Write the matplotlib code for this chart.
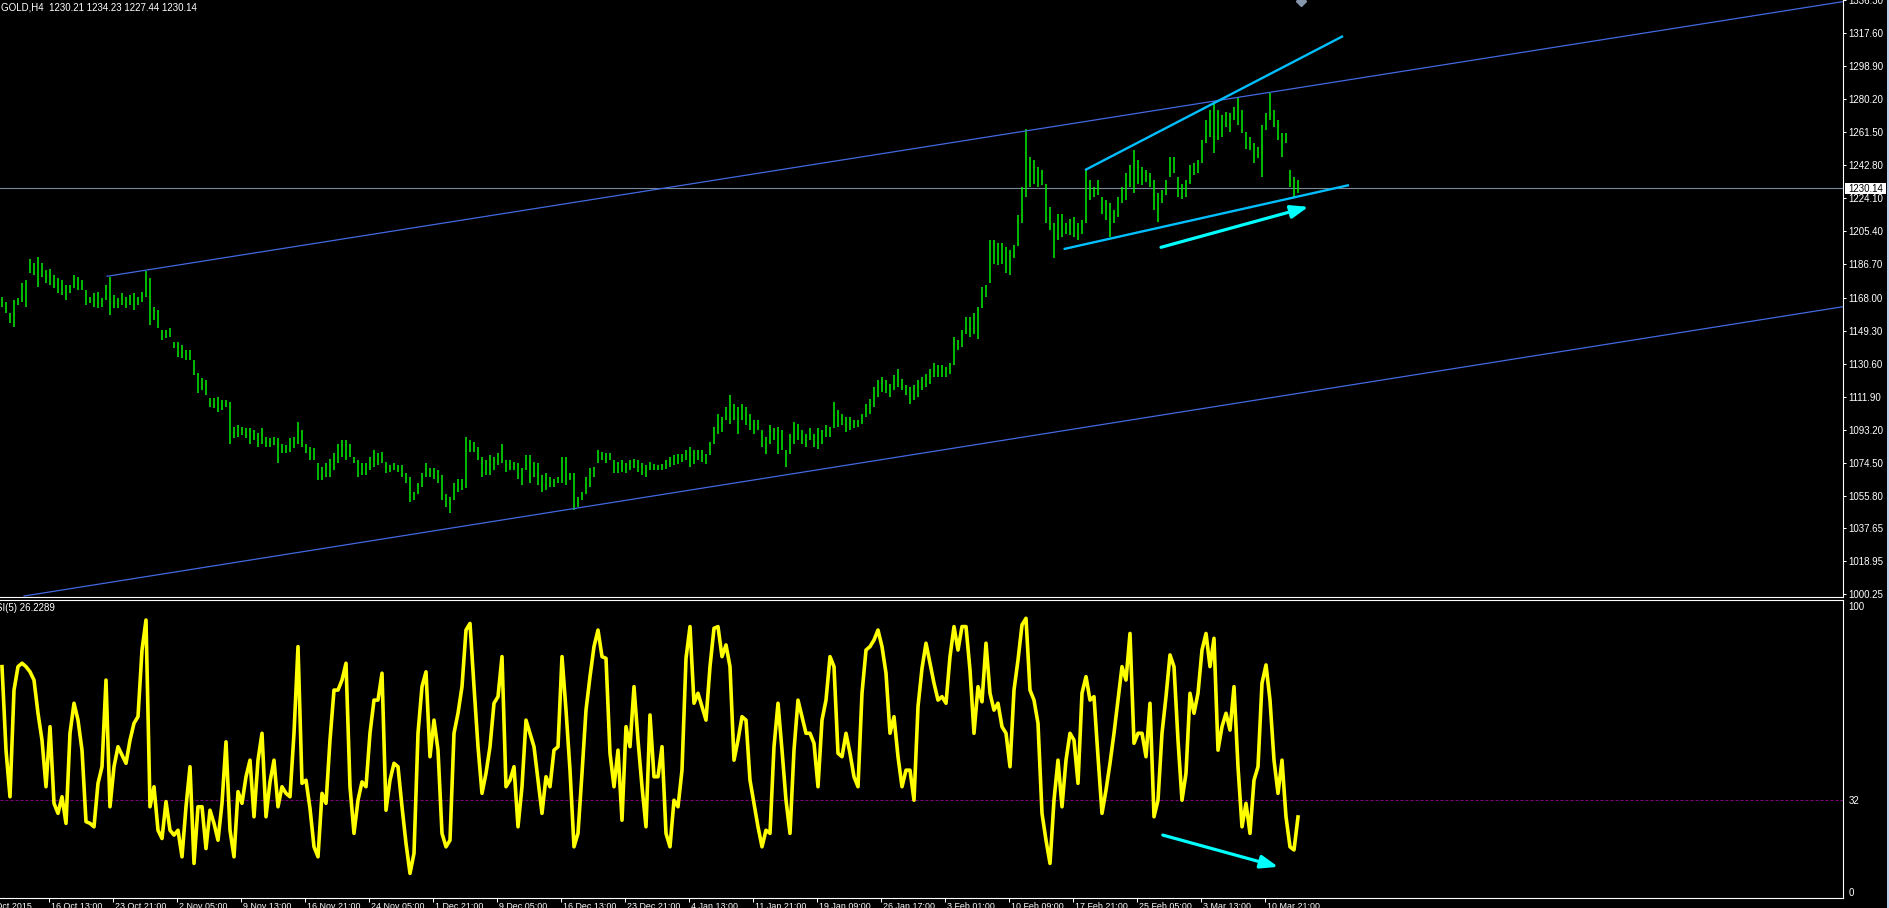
import numpy as np
import matplotlib
matplotlib.use("Agg")
import matplotlib.pyplot as plt
import matplotlib.transforms as mtransforms
from matplotlib.patches import Rectangle

plt.rcParams['font.family'] = ['Liberation Sans', 'DejaVu Sans']

symbol = "GOLD,H4"
last_ohlc = [1230.21, 1234.23, 1227.44, 1230.14]
rsi_name = "RSI(5)"
rsi_level = 32

# H4 bars (every other bar of the screen), highs and lows
bar_high = [
    1168.5, 1165.6, 1159.0, 1166.6, 1167.5, 1176.0, 1177.9, 1189.6, 1187.3, 1191.1,
    1187.3, 1183.6, 1183.9, 1180.7, 1178.8, 1177.9, 1175.1, 1175.1, 1180.7, 1179.8,
    1177.9, 1172.2, 1168.5, 1170.4, 1171.3, 1167.5, 1175.1, 1179.8, 1169.4, 1167.5,
    1170.4, 1168.5, 1169.4, 1170.4, 1168.5, 1171.3, 1183.0, 1178.8, 1162.8, 1160.9,
    1149.6, 1149.6, 1150.5, 1143.0, 1143.0, 1141.1, 1138.3, 1138.3, 1132.6, 1125.1,
    1122.2, 1121.3, 1110.9, 1110.9, 1111.9, 1110.0, 1110.0, 1109.0, 1094.9, 1095.8,
    1094.9, 1093.9, 1093.9, 1093.0, 1091.1, 1093.9, 1089.2, 1088.3, 1089.2, 1088.3,
    1085.4, 1084.5, 1088.3, 1089.2, 1097.7, 1093.0, 1085.4, 1083.6, 1082.6, 1074.1,
    1072.2, 1074.1, 1076.9, 1079.8, 1085.4, 1087.3, 1087.3, 1085.4, 1077.9, 1076.0,
    1074.1, 1074.1, 1077.9, 1081.7, 1079.8, 1080.7, 1075.1, 1073.2, 1074.1, 1073.2,
    1073.2, 1068.5, 1066.6, 1058.1, 1062.8, 1068.5, 1074.1, 1071.3, 1071.3, 1070.4,
    1067.5, 1057.1, 1055.3, 1062.8, 1065.6, 1065.6, 1089.2, 1087.3, 1086.4, 1083.6,
    1077.9, 1076.0, 1078.8, 1077.9, 1079.8, 1085.4, 1076.0, 1076.0, 1075.1, 1074.1,
    1071.3, 1078.8, 1078.8, 1075.1, 1074.1, 1067.5, 1068.5, 1066.6, 1065.6, 1066.6,
    1077.9, 1077.9, 1068.5, 1068.5, 1055.3, 1058.1, 1066.6, 1071.3, 1072.2, 1081.7,
    1080.7, 1079.8, 1079.8, 1076.0, 1075.1, 1076.0, 1074.1, 1076.0, 1076.9, 1076.0,
    1074.1, 1073.2, 1074.9, 1074.0, 1073.1, 1074.0, 1075.9, 1077.8, 1078.7, 1079.7,
    1079.7, 1081.6, 1083.5, 1081.6, 1081.6, 1081.6, 1079.7, 1086.3, 1094.8, 1102.3,
    1100.5, 1106.1, 1112.7, 1108.0, 1106.1, 1108.0, 1106.1, 1102.3, 1098.6, 1098.6,
    1092.9, 1089.1, 1095.7, 1093.9, 1094.8, 1092.9, 1081.6, 1091.0, 1097.6, 1096.7,
    1092.9, 1091.0, 1093.9, 1091.0, 1093.9, 1092.9, 1095.7, 1094.8, 1108.9, 1104.2,
    1102.3, 1100.5, 1100.5, 1098.6, 1098.6, 1102.3, 1108.0, 1110.8, 1117.4, 1121.2,
    1123.1, 1121.2, 1119.3, 1124.0, 1127.8, 1122.1, 1118.4, 1117.4, 1118.4, 1121.2,
    1123.1, 1125.0, 1127.8, 1130.7, 1129.7, 1129.7, 1128.8, 1130.7, 1145.7, 1143.9,
    1149.5, 1157.1, 1157.1, 1159.0, 1162.7, 1174.0, 1175.0, 1200.4, 1200.4, 1198.6,
    1198.6, 1196.7, 1194.8, 1197.6, 1214.6, 1230.6, 1263.1, 1247.6, 1245.7, 1242.0,
    1240.1, 1232.0, 1219.3, 1209.9, 1215.5, 1215.5, 1209.9, 1212.7, 1213.7, 1209.9,
    1211.8, 1240.1, 1234.4, 1230.6, 1234.4, 1225.0, 1223.1, 1221.2, 1217.4, 1225.0,
    1230.6, 1238.2, 1242.9, 1251.4, 1245.7, 1242.0, 1240.1, 1238.2, 1234.4, 1226.9,
    1228.8, 1234.4, 1247.6, 1247.6, 1236.3, 1232.5, 1234.4, 1242.9, 1243.9, 1245.7,
    1257.1, 1268.4, 1274.0, 1279.0, 1274.0, 1271.2, 1273.1, 1272.2, 1275.9, 1281.0,
    1274.0, 1261.8, 1258.9, 1255.2, 1253.3, 1265.5, 1272.2, 1283.5, 1274.0, 1268.4,
    1260.8, 1260.8, 1240.1, 1236.3, 1234.2,
]
bar_low = [
    1162.8, 1159.0, 1153.4, 1151.5, 1163.7, 1165.6, 1162.8, 1181.7, 1180.7, 1174.1,
    1179.8, 1176.0, 1175.1, 1173.2, 1170.4, 1169.4, 1166.6, 1170.4, 1173.2, 1172.2,
    1172.2, 1163.7, 1164.7, 1162.8, 1161.9, 1162.8, 1166.6, 1158.1, 1161.9, 1161.9,
    1163.7, 1161.9, 1163.7, 1160.9, 1163.7, 1165.6, 1168.5, 1152.4, 1155.3, 1150.5,
    1143.9, 1144.9, 1145.8, 1139.2, 1134.5, 1133.6, 1132.6, 1132.6, 1124.1, 1113.7,
    1115.6, 1112.8, 1106.2, 1105.3, 1103.4, 1104.3, 1106.2, 1085.4, 1088.3, 1089.2,
    1090.2, 1088.3, 1085.4, 1087.3, 1083.6, 1085.4, 1083.6, 1083.6, 1084.5, 1074.1,
    1079.8, 1079.8, 1080.7, 1082.6, 1085.4, 1083.6, 1079.8, 1076.0, 1076.0, 1064.7,
    1064.7, 1066.6, 1066.6, 1070.4, 1074.1, 1077.9, 1076.0, 1077.9, 1074.1, 1066.6,
    1067.5, 1067.5, 1070.4, 1072.2, 1073.2, 1074.1, 1068.5, 1069.4, 1070.4, 1069.4,
    1066.6, 1062.8, 1052.4, 1053.4, 1057.1, 1060.9, 1066.6, 1066.6, 1065.6, 1062.8,
    1053.4, 1049.6, 1046.2, 1053.4, 1058.1, 1059.0, 1060.0, 1080.7, 1080.7, 1076.0,
    1066.6, 1067.5, 1067.5, 1070.4, 1073.2, 1074.1, 1069.4, 1070.4, 1070.4, 1065.6,
    1061.9, 1070.4, 1062.8, 1066.6, 1061.9, 1058.1, 1059.0, 1060.9, 1060.9, 1062.8,
    1062.8, 1061.9, 1064.7, 1047.7, 1049.6, 1053.4, 1057.1, 1060.9, 1066.6, 1074.1,
    1076.0, 1074.1, 1076.0, 1068.5, 1068.5, 1069.4, 1068.5, 1070.4, 1071.3, 1069.4,
    1067.5, 1066.6, 1070.3, 1070.3, 1070.3, 1070.3, 1071.2, 1072.2, 1073.1, 1074.0,
    1074.9, 1075.9, 1072.2, 1074.0, 1075.9, 1074.9, 1074.0, 1078.8, 1085.0, 1091.0,
    1092.0, 1098.6, 1096.7, 1098.6, 1091.0, 1098.6, 1095.7, 1092.9, 1091.0, 1092.9,
    1083.5, 1079.7, 1085.4, 1087.3, 1079.7, 1081.6, 1072.2, 1079.7, 1085.4, 1087.3,
    1085.4, 1083.5, 1087.3, 1083.5, 1082.5, 1085.4, 1089.1, 1089.1, 1094.0, 1094.8,
    1095.7, 1092.0, 1092.9, 1093.9, 1094.8, 1096.7, 1100.5, 1102.3, 1106.1, 1111.8,
    1114.6, 1113.7, 1111.8, 1115.6, 1117.4, 1115.6, 1112.7, 1108.0, 1109.9, 1111.8,
    1115.6, 1117.4, 1119.3, 1123.1, 1123.1, 1123.1, 1123.1, 1125.0, 1130.0, 1138.2,
    1140.1, 1147.6, 1145.7, 1147.6, 1144.8, 1162.0, 1168.4, 1176.0, 1187.2, 1186.3,
    1187.2, 1181.6, 1180.6, 1190.1, 1197.0, 1210.0, 1225.0, 1230.6, 1232.5, 1230.6,
    1231.6, 1209.9, 1206.1, 1190.6, 1200.5, 1202.3, 1204.2, 1203.3, 1202.3, 1200.5,
    1204.2, 1209.9, 1223.1, 1225.0, 1225.9, 1215.5, 1211.8, 1202.3, 1209.9, 1213.7,
    1221.2, 1223.1, 1230.6, 1226.9, 1232.5, 1231.6, 1233.5, 1230.6, 1217.4, 1210.8,
    1221.2, 1225.9, 1236.3, 1238.2, 1225.0, 1224.0, 1225.0, 1232.5, 1237.2, 1238.2,
    1243.9, 1255.2, 1259.0, 1249.5, 1257.1, 1259.0, 1264.6, 1261.8, 1268.4, 1265.5,
    1260.8, 1252.3, 1251.4, 1243.9, 1246.7, 1236.3, 1262.7, 1268.4, 1264.6, 1257.1,
    1247.6, 1255.2, 1230.6, 1225.0, 1227.4,
]
rsi_values = [
    78.8, 49.6, 33.3, 70.6, 78.8, 80.0, 78.8, 77.0, 74.1, 62.5,
    53.1, 36.8, 57.8, 31.0, 27.5, 33.3, 24.0, 55.5, 66.0, 60.1,
    49.6, 24.6, 24.0, 22.8, 38.0, 43.8, 74.1, 29.8, 43.8, 50.8,
    47.9, 45.0, 53.1, 59.0, 61.3, 84.6, 95.1, 29.8, 36.8, 21.6,
    18.7, 31.6, 21.6, 19.9, 21.6, 12.3, 29.8, 43.8, 10.0, 29.8,
    29.8, 15.2, 28.6, 24.0, 18.1, 31.0, 52.5, 21.6, 12.3, 35.1,
    31.0, 40.3, 46.1, 26.3, 46.1, 55.5, 26.3, 38.5, 46.1, 29.8,
    36.8, 34.5, 33.3, 55.5, 85.8, 38.0, 39.1, 29.2, 15.8, 12.3,
    34.5, 31.0, 53.1, 70.6, 70.6, 74.1, 80.0, 36.8, 20.5, 32.1,
    38.5, 36.8, 55.5, 67.1, 67.1, 76.5, 28.6, 39.1, 45.0, 43.8,
    29.8, 17.0, 6.5, 13.5, 55.5, 71.8, 77.0, 47.3, 60.1, 49.6,
    20.5, 15.8, 18.1, 55.5, 62.5, 71.8, 91.6, 93.9, 71.8, 50.8,
    34.5, 41.5, 50.8, 66.0, 68.3, 82.3, 36.8, 39.1, 43.8, 22.8,
    36.8, 60.1, 55.5, 50.8, 39.1, 27.5, 40.3, 36.8, 49.6, 50.8,
    82.3, 63.6, 42.6, 15.8, 20.5, 41.5, 63.6, 75.3, 85.8, 91.6,
    82.3, 81.7, 48.5, 36.8, 49.6, 25.1, 57.8, 50.8, 71.8, 53.1,
    36.8, 22.8,
    61.9, 40.3, 40.3, 50.8, 20.5, 15.8, 32.1, 29.8, 42.6, 81.7,
    92.8, 66.0, 69.5, 64.8, 60.1, 78.8, 92.2, 92.8, 82.3, 86.4,
    78.8, 46.1, 53.1, 61.3, 60.1, 39.1, 31.0, 22.8, 15.8, 21.6,
    20.5, 50.8, 66.0, 49.6, 32.1, 20.5, 49.6, 67.1, 61.3, 55.5,
    55.5, 52.0, 36.8, 60.1, 67.1, 82.3, 78.8, 48.5, 47.3, 55.5,
    48.5, 40.3, 36.8, 69.5, 84.6, 85.8, 88.1, 91.6, 85.8, 76.5,
    55.5, 61.3, 47.3, 36.8, 42.6, 42.6, 32.1, 64.8, 78.2, 87.0,
    80.0, 73.0, 67.1, 68.3, 66.0, 82.3, 92.8, 84.6, 92.8, 92.8,
    77.6, 55.5, 71.8, 66.5, 87.0, 69.5, 63.6, 66.0, 57.8, 55.5,
    43.8, 70.6, 81.1, 93.4, 95.7, 70.6, 67.1, 59.0, 27.5, 18.1,
    10.0, 32.1, 46.1, 29.8, 46.1, 55.5, 53.1, 38.0, 69.5, 75.3,
    67.1, 68.3, 47.3, 27.5, 35.6, 45.0, 55.5, 67.1, 78.8, 74.1,
    90.4, 52.0, 55.5, 55.5, 47.3, 66.0, 26.3, 32.1, 55.5, 68.3,
    82.9, 78.8, 53.1, 32.1, 41.5, 69.5, 62.5, 69.5, 84.6, 90.4,
    78.8, 88.7, 49.6, 57.8, 62.5, 56.6, 71.8, 43.8, 22.8, 31.0,
    20.5, 39.1, 43.8, 73.0, 79.4, 67.1, 46.1, 34.5, 46.1, 26.3,
    15.8, 14.7, 26.2289,
]

price_ticks = [1336.30, 1317.60, 1298.90, 1280.20, 1261.50, 1242.80, 1224.10,
               1205.40, 1186.70, 1168.00, 1149.30, 1130.60, 1111.90, 1093.20,
               1074.50, 1055.80, 1037.65, 1018.95, 1000.25]
rsi_ticks = [0, 32, 100]
time_labels = ["8 Oct 2015", "16 Oct 13:00", "23 Oct 21:00", "2 Nov 05:00",
               "9 Nov 13:00", "16 Nov 21:00", "24 Nov 05:00", "1 Dec 21:00",
               "9 Dec 05:00", "16 Dec 13:00", "23 Dec 21:00", "4 Jan 13:00",
               "11 Jan 21:00", "19 Jan 09:00", "26 Jan 17:00", "3 Feb 01:00",
               "10 Feb 09:00", "17 Feb 21:00", "25 Feb 05:00", "3 Mar 13:00",
               "10 Mar 21:00"]
first_label_bar = -4.25
label_step = 16

# drawn objects: (bar, value) end points
channel_top = [(26.25, 1180.0), (460.25, 1335.4)]
channel_bottom = [(5.5, 999.1), (460.25, 1162.8)]
wedge_top = [(270.75, 1240.1), (335.25, 1315.9)]
wedge_bottom = [(265.4, 1195.4), (336.75, 1231.6)]
price_arrow = [(289.75, 1196.4), (326.6, 1219.3)]
rsi_arrow = [(290.2, 19.9), (319.05, 8.8)]

W, H = 1890, 908
fig = plt.figure(figsize=(W / 100, H / 100), dpi=100, facecolor='black')


def px_box(x0, y0, x1, y1):
    return [x0 / W, 1 - y1 / H, (x1 - x0) / W, (y1 - y0) / H]


ax = fig.add_axes(px_box(0, 0, 1843, 597))
ax_rsi = fig.add_axes(px_box(0, 600, 1843, 898))

for a in (ax, ax_rsi):
    a.set_facecolor('black')
    a.set_xlim(-0.5, 460.25)
    a.spines['left'].set_visible(False)
    for s in ('right', 'bottom', 'top'):
        a.spines[s].set_color('white')
        a.spines[s].set_linewidth(0.8)
    a.yaxis.tick_right()
ax.spines['top'].set_visible(False)

# price pane
bars = np.arange(len(bar_high))
ax.vlines(bars, bar_low, bar_high, colors='#00f000', linewidth=1.1,
          zorder=3)
ax.set_ylim(998.56, 1336.32)
ax.set_yticks(price_ticks)
ax.set_yticklabels([f"{v:.2f}" for v in price_ticks])
ax.set_xticks([])
ax.tick_params(axis='y', colors='white', length=2.2, width=0.72, pad=1.5,
               labelsize=7)

for line in (channel_top, channel_bottom):
    ax.plot([p[0] for p in line], [p[1] for p in line], color='#4169e1',
            lw=0.9, zorder=4)
ax.axhline(last_ohlc[3], color='#778899', lw=0.8, zorder=2)
for line in (wedge_top, wedge_bottom):
    ax.plot([p[0] for p in line], [p[1] for p in line], color='#00bfff',
            lw=1.7, solid_capstyle='butt', zorder=5)

arrow_style = dict(arrowstyle='-|>,head_length=0.75,head_width=0.28',
                   color='#00ffff', lw=2.3, mutation_scale=14,
                   shrinkA=0, shrinkB=0)
ax.annotate('', xy=price_arrow[1], xytext=price_arrow[0],
            arrowprops=arrow_style, zorder=6)

# RSI pane
ax_rsi.plot(bars, rsi_values, color='#ffff00', lw=2.6,
            solid_joinstyle='round', zorder=3)
ax_rsi.axhline(rsi_level, color='#800080', lw=0.72, linestyle=(0, (3, 2)),
               zorder=2)
ax_rsi.set_ylim(-2.1, 102.1)
ax_rsi.set_yticks(rsi_ticks)
ax_rsi.set_yticklabels([str(v) for v in rsi_ticks])
ax_rsi.tick_params(axis='y', colors='white', length=0, pad=4, labelsize=7)
ax_rsi.annotate('', xy=rsi_arrow[1], xytext=rsi_arrow[0],
                arrowprops=arrow_style, zorder=6)

tick_pos = [first_label_bar + label_step * i for i in range(len(time_labels))]
ax_rsi.set_xticks([t for t in tick_pos if t > -0.5])
ax_rsi.set_xticklabels([])
ax_rsi.tick_params(axis='x', colors='white', length=2.9, width=0.72,
                   direction='out')
trans = mtransforms.blended_transform_factory(ax_rsi.transData, ax_rsi.transAxes)
trans = mtransforms.offset_copy(trans, fig=fig, x=2.5, y=-4, units='dots')
for pos, lab in zip(tick_pos, time_labels):
    ax_rsi.text(pos, 0, lab, transform=trans, color='white', fontsize=6.4,
                ha='left', va='top', clip_on=False)

# header and indicator name
header = symbol + "  " + " ".join(f"{v:.2f}" for v in last_ohlc)
fig.text(1 / W, 1 - 7 / H, header, color='white', fontsize=7,
         ha='left', va='center')
fig.text(-11 / W, 1 - 608 / H, f"{rsi_name} {rsi_values[-1]:.4f}",
         color='white', fontsize=7, ha='left', va='center')

# bid price box on the price scale
fig.patches.append(Rectangle((1845 / W, 1 - 194 / H), 41 / W, 11 / H,
                             transform=fig.transFigure, facecolor='white',
                             edgecolor='none', zorder=5))
fig.text(1848 / W, 1 - 188.5 / H, f"{last_ohlc[3]:.2f}", color='black',
         fontsize=7, ha='left', va='center', zorder=6)

# window edge and chart shift marker
fig.patches.append(Rectangle((1887 / W, 0), 3 / W, 1, transform=fig.transFigure,
                             facecolor='#b8d0ec', edgecolor='none'))
fig.lines.append(plt.Line2D([1301 / W], [1 - 1 / H], transform=fig.transFigure,
                            marker='D', markersize=5, color='#8896ac',
                            linestyle='none'))

fig.savefig('out.png', dpi=100, facecolor='black')
